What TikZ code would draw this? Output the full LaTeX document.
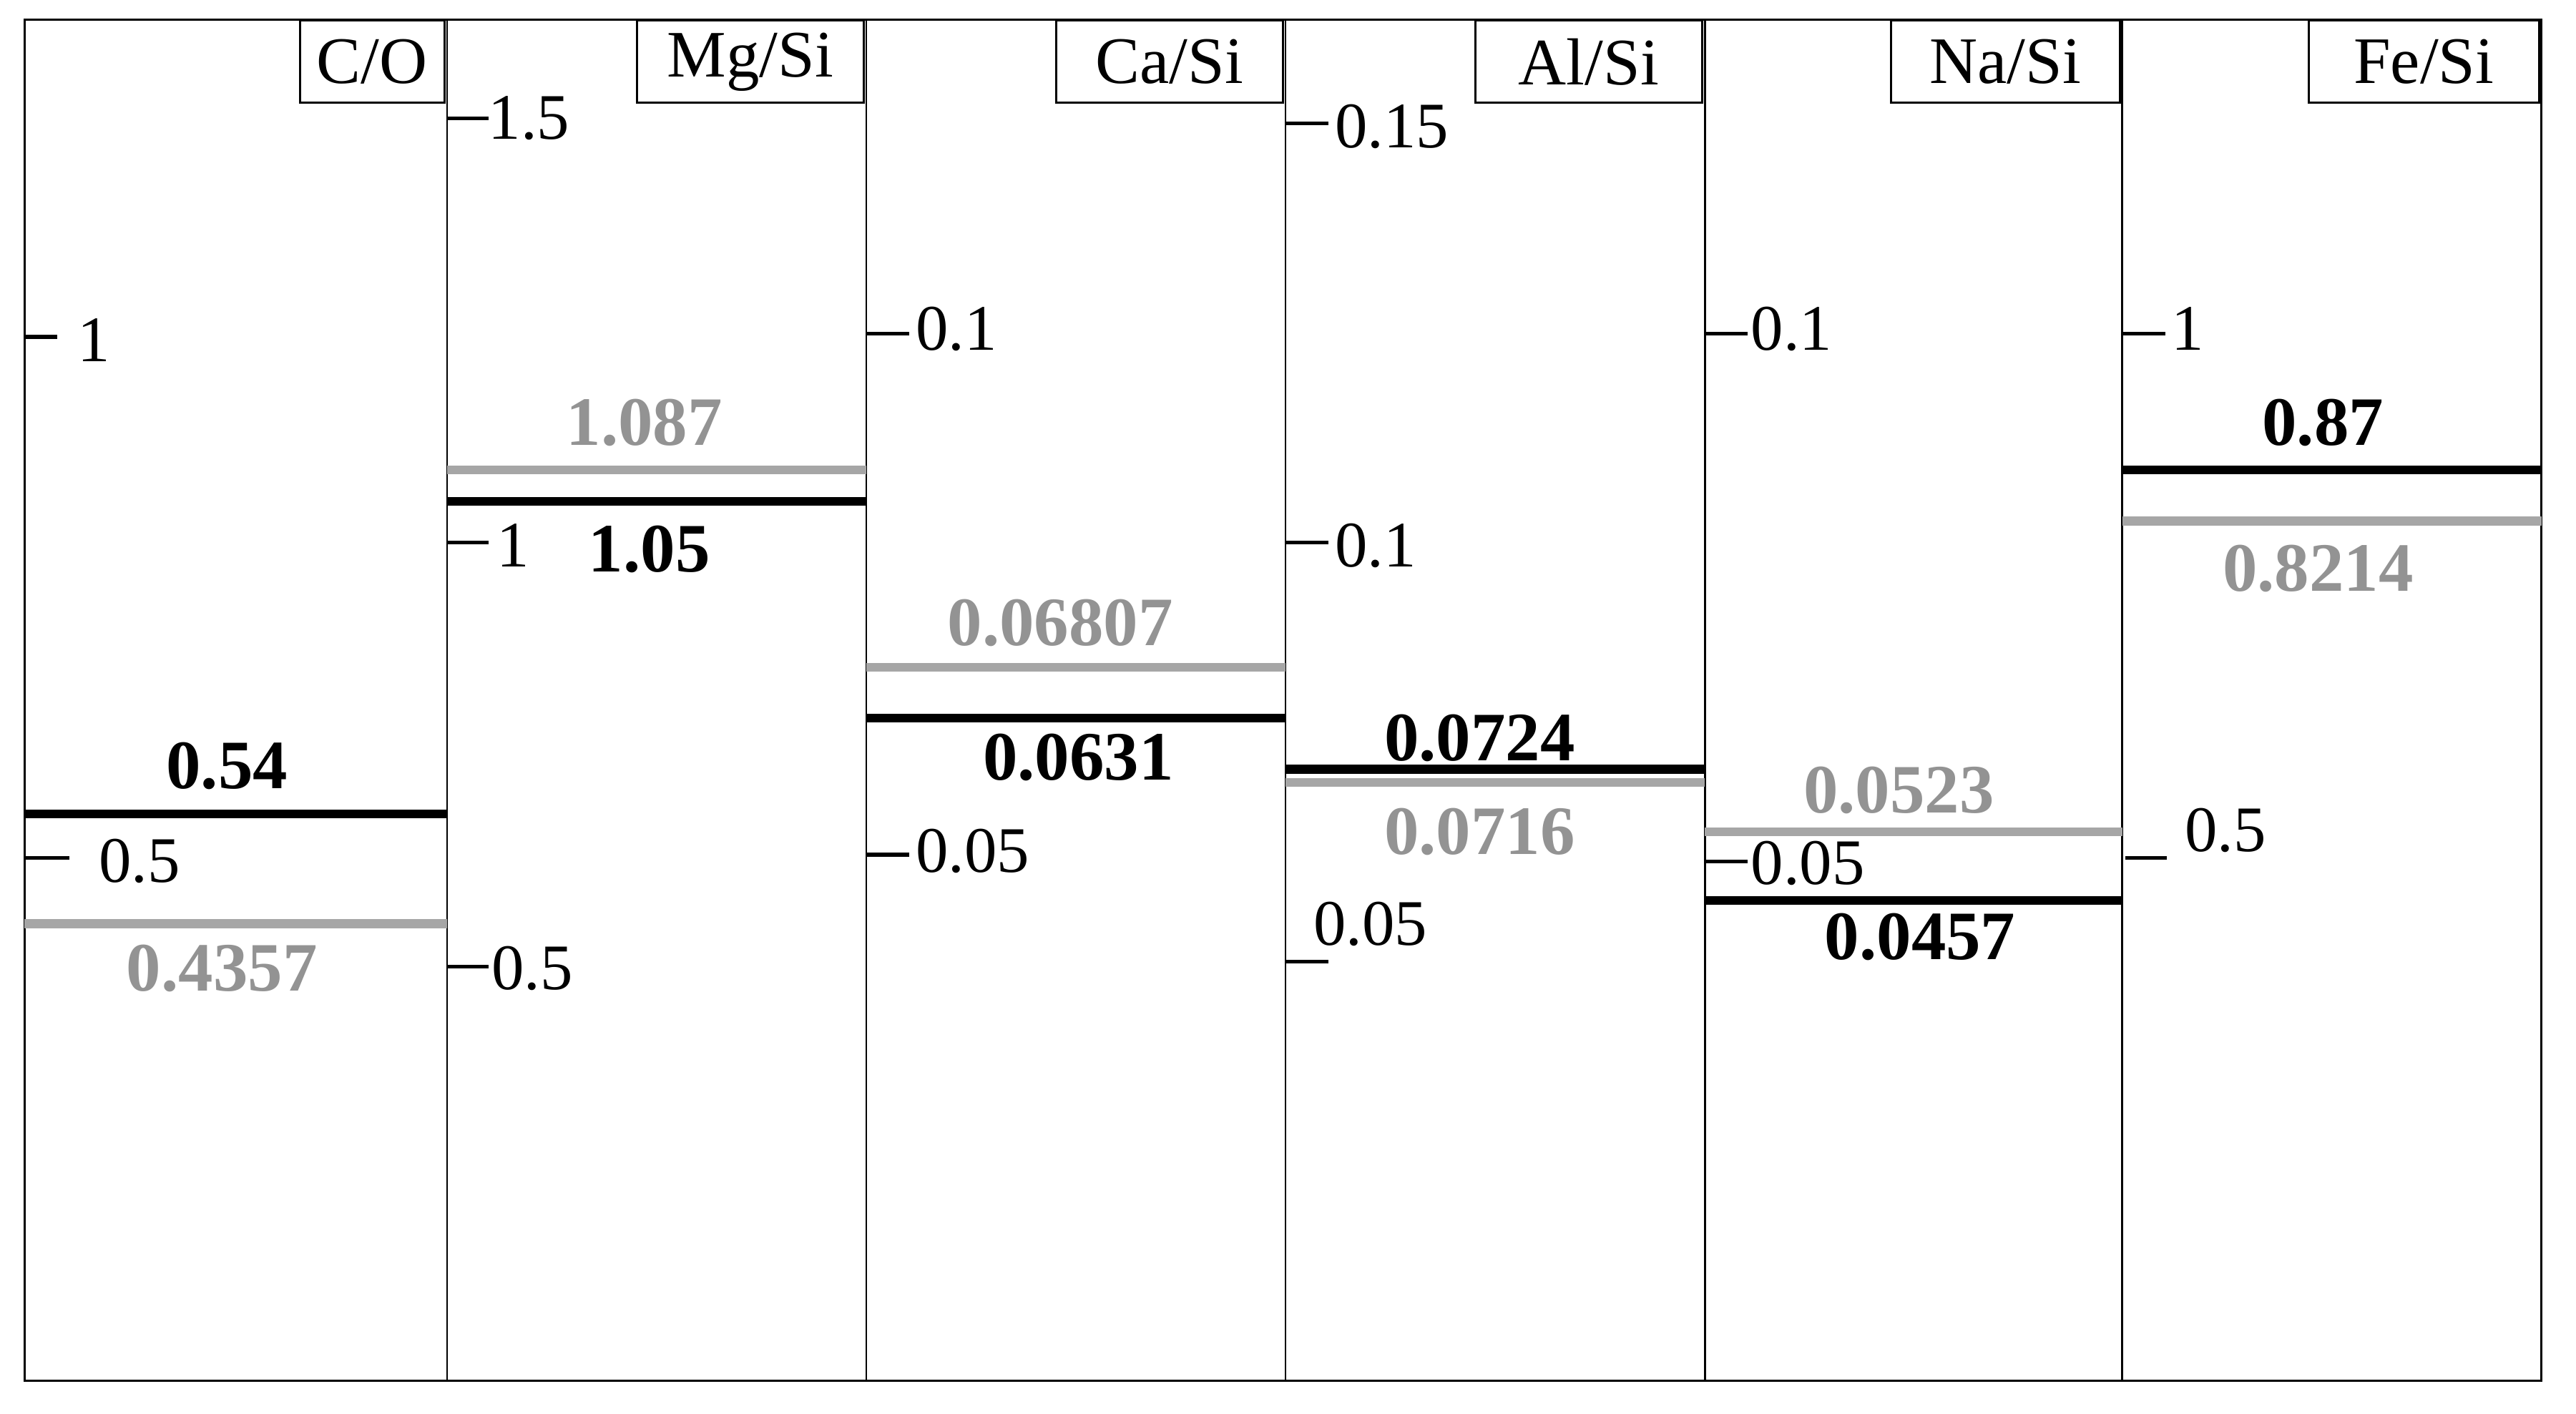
\documentclass[tikz,border=0pt]{standalone}
\usepackage{fontspec}
\setmainfont{Liberation Serif}
\begin{document}
\begin{tikzpicture}[x=0.02cm,y=-0.02cm,
  lab/.style={draw,line width=0.7pt,inner sep=0pt,minimum height=1cm,font=\fontsize{23}{28}\selectfont},
  tk/.style={font=\fontsize{22.5}{28}\selectfont,anchor=west,inner sep=1pt},
  bv/.style={font=\fontsize{24}{28}\selectfont\bfseries,inner sep=1pt},
  gv/.style={font=\fontsize{24}{28}\selectfont\bfseries,text=gray!85,inner sep=1pt},
  tl/.style={line width=1.3pt},
  bb/.style={line width=3pt,black},
  gb/.style={line width=3pt,gray!70}]
\useasboundingbox (0,0) rectangle (1567,860);
\draw[line width=0.7pt] (15,12) rectangle (1546,840);
\foreach \x in {272,527,782,1037,1291} \draw[line width=0.7pt] (\x,12) -- (\x,840);
% labels
\node[lab,minimum width=1.76cm,anchor=north east] (l1) at (271,12) {C/O};
\node[lab,minimum width=2.76cm,anchor=north east] (l2) at (526,12) {Mg/Si};
\node[lab,minimum width=2.76cm,anchor=north east] (l3) at (781,12) {Ca/Si};
\node[lab,minimum width=2.76cm,anchor=north east] (l4) at (1036,12) {Al/Si};
\node[lab,minimum width=2.78cm,anchor=north east] (l5) at (1290,12) {Na/Si};
\node[lab,minimum width=2.8cm,anchor=north east] (l6) at (1545,12) {Fe/Si};
% ticks
\draw[tl] (15,205) -- (35,205); \node[tk] (t1) at (45,207) {1};
\draw[tl] (15,522) -- (42,522); \node[tk] (t2) at (58,524) {0.5};
\draw[tl] (272,72) -- (297,72); \node[tk] (t3) at (295,72) {1.5};
\draw[tl] (272,330) -- (297,330); \node[tk] (t4) at (300,332) {1};
\draw[tl] (272,588) -- (297,588); \node[tk] (t5) at (297,589) {0.5};
\draw[tl] (527,203) -- (553,203); \node[tk] (t6) at (555,200) {0.1};
\draw[tl] (527,520) -- (553,520); \node[tk] (t7) at (555,518) {0.05};
\draw[tl] (782,75) -- (808,75); \node[tk] (t8) at (810,77) {0.15};
\draw[tl] (782,330) -- (808,330); \node[tk] (t9) at (810,332) {0.1};
\draw[tl] (782,585) -- (808,585); \node[tk] (t10) at (797,562) {0.05};
\draw[tl] (1037,203) -- (1063,203); \node[tk] (t11) at (1063,200) {0.1};
\draw[tl] (1037,524) -- (1063,524); \node[tk] (t12) at (1063,525) {0.05};
\draw[tl] (1291,203) -- (1317,203); \node[tk] (t13) at (1319,200) {1};
\draw[tl] (1293,522) -- (1318,522); \node[tk] (t14) at (1327,505) {0.5};
% bars
\draw[bb] (15,495) -- (272,495); \node[bv] (v1) at (138,466) {0.54};
\draw[gb] (15,562) -- (272,562); \node[gv] (v2) at (135,589) {0.4357};
\draw[gb] (272,286) -- (527,286); \node[gv] (v3) at (392,257) {1.087};
\draw[bb] (272,305) -- (527,305); \node[bv] (v4) at (395,334) {1.05};
\draw[gb] (527,406) -- (782,406); \node[gv] (v5) at (645,379) {0.06807};
\draw[bb] (527,437) -- (782,437); \node[bv] (v6) at (656,461) {0.0631};
\draw[bb] (782,468) -- (1037,468); \node[bv] (v7) at (900,449) {0.0724};
\draw[gb] (782,476) -- (1037,476); \node[gv] (v8) at (900,506) {0.0716};
\draw[gb] (1037,506) -- (1291,506); \node[gv] (v9) at (1155,481) {0.0523};
\draw[bb] (1037,548) -- (1291,548); \node[bv] (v10) at (1168,570) {0.0457};
\draw[bb] (1291,286) -- (1546,286); \node[bv] (v11) at (1413,257) {0.87};
\draw[gb] (1291,317) -- (1546,317); \node[gv] (v12) at (1410,346) {0.8214};
\end{tikzpicture}
\end{document}
